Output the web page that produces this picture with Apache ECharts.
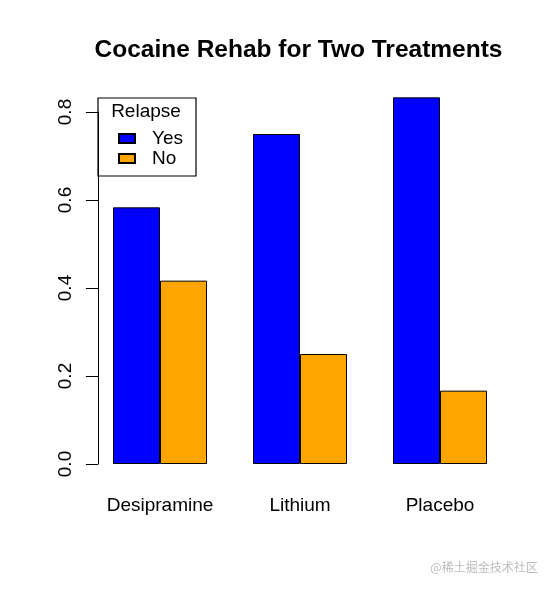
<!DOCTYPE html>
<html>
<head>
<meta charset="utf-8">
<script src="https://cdn.jsdelivr.net/npm/echarts@6/dist/echarts.min.js"></script>
<style>html,body{margin:0;padding:0;background:#fff;}#c{width:552px;height:590px;}</style>
</head>
<body>
<div id="c"></div>
<script>
const categories = ['Desipramine', 'Lithium', 'Placebo'];
const yesValues = [0.5833, 0.75, 0.8333];
const noValues = [0.4167, 0.25, 0.1667];
const seriesNames = ['Yes', 'No'];
const yTickMin = 0, yTickMax = 0.8, yTickStep = 0.2;
const titleText = 'Cocaine Rehab for Two Treatments';
const legendTitle = 'Relapse';
const watermark = '@稀土掘金技术社区';

const FONT = '"Liberation Sans", Arial, sans-serif';
const chart = echarts.init(document.getElementById('c'), null, {renderer: 'canvas'});
chart.setOption({
  backgroundColor: '#fff',
  animation: false,
  grid: {left: 90, width: 420, top: 112, bottom: 126, containLabel: false},
  legend: {
    orient: 'vertical', left: 118, top: 129, padding: 0, itemWidth: 16, itemHeight: 9, itemGap: 1,
    icon: 'rect', data: seriesNames,
    textStyle: {fontFamily: FONT, fontSize: 19, color: '#000', padding: [0, 0, 0, 12]},
    selectedMode: false
  },
  xAxis: {
    type: 'category', data: categories,
    axisLine: {show: false}, axisTick: {show: false},
    axisLabel: {margin: 32, fontFamily: FONT, fontSize: 19, color: '#000'}
  },
  yAxis: {
    type: 'value', min: yTickMin, max: yTickMax, interval: yTickStep, offset: -8,
    splitLine: {show: false},
    axisLine: {show: true, lineStyle: {color: '#000', width: 1}},
    axisTick: {show: true, length: 12, lineStyle: {color: '#000'}},
    axisLabel: {rotate: 90, margin: 23, fontFamily: FONT, fontSize: 19, color: '#000',
      formatter: v => v.toFixed(1)}
  },
  series: [
    {name: seriesNames[0], type: 'bar', data: yesValues, barWidth: 47, barGap: '0%', clip: false,
     itemStyle: {color: '#0000FF', borderColor: '#000', borderWidth: 1}},
    {name: seriesNames[1], type: 'bar', data: noValues, barWidth: 47, barGap: '0%', clip: false,
     itemStyle: {color: '#FFA500', borderColor: '#000', borderWidth: 1}}
  ],
  graphic: [
    {type: 'text', x: 298.5, y: 50, style: {text: titleText, font: 'bold 24.5px ' + FONT, fill: '#000', textAlign: 'center', textVerticalAlign: 'middle'}, z: 100},
    {type: 'rect', shape: {x: 98, y: 98, width: 98, height: 78}, style: {fill: 'none', stroke: '#000', lineWidth: 1.2}, z: 100},
    {type: 'text', x: 146, y: 112, style: {text: legendTitle, font: '19px ' + FONT, fill: '#000', textAlign: 'center', textVerticalAlign: 'middle'}, z: 100},
    {type: 'text', x: 484, y: 567, style: {text: watermark, font: '12px "Noto Sans CJK SC", sans-serif', fill: '#bbbbbb', textAlign: 'center', textVerticalAlign: 'middle'}, z: 100}
  ]
});
</script>
</body>
</html>
